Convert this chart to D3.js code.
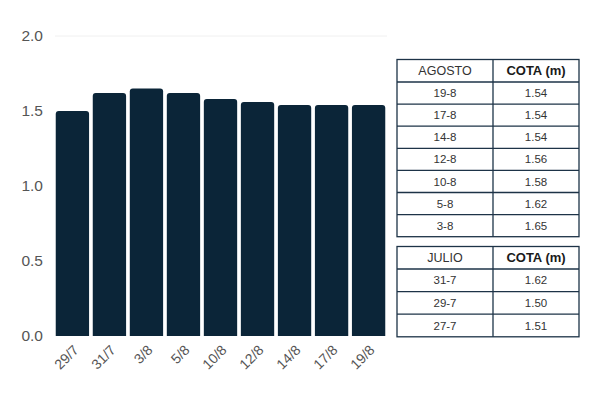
<!DOCTYPE html>
<html>
<head>
<meta charset="utf-8">
<style>
body { margin: 0; background: #fff; }
svg { font-family: "Liberation Sans", Arial, sans-serif; }
</style>
</head>
<body>
<svg id="chart" width="600" height="400"></svg>
<script src="https://d3js.org/d3.v7.min.js"></script>
<script>
// bar data
var fechas = ["29/7", "31/7", "3/8", "5/8", "10/8", "12/8", "14/8", "17/8", "19/8"];
var cotas = [1.50, 1.62, 1.65, 1.62, 1.58, 1.56, 1.54, 1.54, 1.54];
var yTicks = [0, 0.5, 1, 1.5, 2];

// table data
var agostoDias = ["19-8", "17-8", "14-8", "12-8", "10-8", "5-8", "3-8"];
var agostoCotas = ["1.54", "1.54", "1.54", "1.56", "1.58", "1.62", "1.65"];
var julioDias = ["31-7", "29-7", "27-7"];
var julioCotas = ["1.62", "1.50", "1.51"];

var svg = d3.select("#chart");
var barColor = "#0b2538";

var x = d3.scaleBand().domain(fechas).range([55, 386]).paddingInner(0.1).paddingOuter(0.02);
var y = d3.scaleLinear().domain([0, 2]).range([336, 36]);

// top gridline
svg.append("line")
  .attr("x1", 55).attr("x2", 387)
  .attr("y1", y(2)).attr("y2", y(2))
  .attr("stroke", "#f0f0f0");

// y axis labels
svg.append("g").selectAll("text")
  .data(yTicks).join("text")
  .attr("x", 43).attr("y", function(d) { return y(d); })
  .attr("dy", "0.35em")
  .attr("text-anchor", "end")
  .attr("font-size", 15.5)
  .attr("fill", "#555")
  .text(function(d) { return d3.format(".1f")(d); });

// bars with rounded tops
function barPath(d, i) {
  var x0 = x(fechas[i]), w = x.bandwidth(), y0 = y(d), y1 = y(0), r = 3;
  return "M" + x0 + "," + y1 + "V" + (y0 + r) + "Q" + x0 + "," + y0 + " " + (x0 + r) + "," + y0 +
    "H" + (x0 + w - r) + "Q" + (x0 + w) + "," + y0 + " " + (x0 + w) + "," + (y0 + r) + "V" + y1 + "Z";
}
svg.append("g").selectAll("path")
  .data(cotas).join("path")
  .attr("d", barPath)
  .attr("fill", barColor);

// x labels rotated
svg.append("g").selectAll("text")
  .data(fechas).join("text")
  .attr("transform", function(d) {
    return "translate(" + (x(d) + x.bandwidth() / 2 + 7) + ",351) rotate(-45)";
  })
  .attr("text-anchor", "end")
  .attr("font-size", 14)
  .attr("fill", "#555")
  .text(function(d) { return d; });

// tables
function drawTable(top, header, dias, vals, rowH) {
  var left = 397, mid = 493, right = 579, headH = 22.5;
  var g = svg.append("g");
  var n = dias.length;
  var bottom = top + headH + n * rowH;
  var border = "#1d3347";
  g.append("rect").attr("x", left).attr("y", top)
    .attr("width", right - left).attr("height", bottom - top)
    .attr("fill", "#fff").attr("stroke", border).attr("stroke-width", 1.3);
  g.append("line").attr("x1", mid).attr("x2", mid).attr("y1", top).attr("y2", bottom)
    .attr("stroke", border).attr("stroke-width", 1.3);
  var lines = d3.range(n).map(function(i) { return top + headH + i * rowH; });
  g.selectAll("line.h").data(lines).join("line").attr("class", "h")
    .attr("x1", left).attr("x2", right)
    .attr("y1", function(d) { return d; }).attr("y2", function(d) { return d; })
    .attr("stroke", border).attr("stroke-width", 1.3);
  g.append("text").attr("x", (left + mid) / 2).attr("y", top + headH / 2)
    .attr("dy", "0.36em").attr("text-anchor", "middle")
    .attr("font-size", 12.5).attr("fill", "#333").text(header);
  g.append("text").attr("x", (mid + right) / 2).attr("y", top + headH / 2)
    .attr("dy", "0.36em").attr("text-anchor", "middle")
    .attr("font-size", 13).attr("font-weight", "bold").attr("fill", "#1a1a1a").text("COTA (m)");
  g.selectAll("text.d").data(dias).join("text").attr("class", "d")
    .attr("x", (left + mid) / 2)
    .attr("y", function(d, i) { return top + headH + i * rowH + rowH / 2; })
    .attr("dy", "0.36em").attr("text-anchor", "middle")
    .attr("font-size", 11.5).attr("fill", "#333").text(function(d) { return d; });
  g.selectAll("text.v").data(vals).join("text").attr("class", "v")
    .attr("x", (mid + right) / 2)
    .attr("y", function(d, i) { return top + headH + i * rowH + rowH / 2; })
    .attr("dy", "0.36em").attr("text-anchor", "middle")
    .attr("font-size", 11.5).attr("fill", "#333").text(function(d) { return d; });
}
drawTable(59.5, "AGOSTO", agostoDias, agostoCotas, 22.1);
drawTable(246.5, "JULIO", julioDias, julioCotas, 22.6);
</script>
</body>
</html>
